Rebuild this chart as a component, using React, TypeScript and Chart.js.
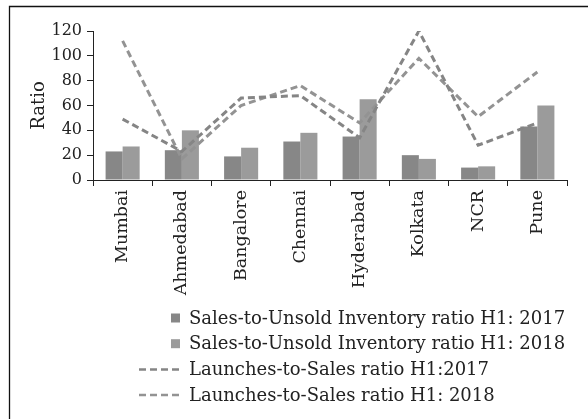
import React, { useEffect, useRef } from "react";
import { Chart, registerables } from "chart.js";

Chart.register(...registerables);

const categories = ["Mumbai", "Ahmedabad", "Bangalore", "Chennai", "Hyderabad", "Kolkata", "NCR", "Pune"];
const salesUnsold2017 = [23, 24, 19, 31, 35, 20, 10, 43];
const salesUnsold2018 = [27, 40, 26, 38, 65, 17, 11, 60];
const launchesSales2017 = [49, 23, 66, 68, 34, 120, 28, 46];
const launchesSales2018 = [112, 17, 60, 76, 46, 98, 51, 87];
const seriesLabels = [
  "Sales-to-Unsold Inventory ratio H1: 2017",
  "Sales-to-Unsold Inventory ratio H1: 2018",
  "Launches-to-Sales ratio H1:2017",
  "Launches-to-Sales ratio H1: 2018",
];
const yTitle = "Ratio";
const yMin = 0;
const yMax = 120;
const yStep = 20;

const FONT = '"DejaVu Serif", serif';
const INK = "#222";

const frameAndLegend = {
  id: "frameAndLegend",
  beforeDraw(chart: any) {
    const ctx = chart.ctx;
    ctx.save();
    ctx.fillStyle = "#fff";
    ctx.fillRect(0, 0, chart.width, chart.height);
    ctx.strokeStyle = "#111";
    ctx.lineWidth = 1.3;
    ctx.beginPath();
    ctx.moveTo(9.5, chart.height);
    ctx.lineTo(9.5, 6.5);
    ctx.lineTo(chart.width, 6.5);
    ctx.stroke();
    ctx.restore();
  },
  afterDraw(chart: any) {
    const ctx = chart.ctx;
    ctx.save();
    ctx.font = "18px " + FONT;
    ctx.textBaseline = "middle";
    ctx.textAlign = "left";
    chart.data.datasets.forEach((d: any, i: number) => {
      const y = 318 + i * 25.7;
      if (d.type === "line") {
        ctx.strokeStyle = d.borderColor;
        ctx.lineWidth = 2.5;
        ctx.setLineDash([7, 4]);
        ctx.beginPath();
        ctx.moveTo(139, y);
        ctx.lineTo(182, y);
        ctx.stroke();
        ctx.setLineDash([]);
      } else {
        ctx.fillStyle = d.backgroundColor;
        ctx.fillRect(171, y - 4.5, 9, 9);
      }
      ctx.fillStyle = INK;
      ctx.fillText(d.label, 189, y + 1);
    });
    ctx.restore();
  },
};

export default function App() {
  const ref = useRef<HTMLCanvasElement>(null);
  useEffect(() => {
    if (!ref.current) return;
    const chart = new Chart(ref.current, {
      type: "bar",
      data: {
        labels: categories,
        datasets: [
          {
            type: "bar",
            label: seriesLabels[0],
            data: salesUnsold2017,
            backgroundColor: "#878787",
            categoryPercentage: 0.575,
            barPercentage: 1,
            order: 2,
          },
          {
            type: "bar",
            label: seriesLabels[1],
            data: salesUnsold2018,
            backgroundColor: "#9b9b9b",
            categoryPercentage: 0.575,
            barPercentage: 1,
            order: 2,
          },
          {
            type: "line",
            label: seriesLabels[2],
            data: launchesSales2017,
            borderColor: "#858585",
            borderWidth: 3,
            borderDash: [7, 4],
            pointRadius: 0,
            fill: false,
            tension: 0,
            order: 1,
          },
          {
            type: "line",
            label: seriesLabels[3],
            data: launchesSales2018,
            borderColor: "#939393",
            borderWidth: 3,
            borderDash: [7, 4],
            pointRadius: 0,
            fill: false,
            tension: 0,
            order: 1,
          },
        ],
      } as any,
      options: {
        animation: false,
        responsive: false,
        devicePixelRatio: 1,
        layout: { padding: { left: 0, top: 31, right: 21, bottom: 119 } },
        plugins: { legend: { display: false }, tooltip: { enabled: false } },
        scales: {
          x: {
            offset: true,
            grid: { offset: true, drawOnChartArea: false, drawTicks: true, tickLength: 6, color: INK },
            border: { color: INK, width: 1 },
            ticks: {
              maxRotation: 90,
              minRotation: 90,
              padding: 4,
              color: INK,
              font: { family: FONT, size: 17.5 },
              autoSkip: false,
            },
            afterFit: (s: any) => {
              s.height = 120;
            },
          },
          y: {
            min: yMin,
            max: yMax,
            grid: { drawOnChartArea: false, drawTicks: true, tickLength: 6, color: INK },
            border: { color: INK, width: 1 },
            ticks: {
              stepSize: yStep,
              padding: 5,
              color: INK,
              font: { family: FONT, size: 16 },
            },
            title: {
              display: true,
              text: yTitle,
              color: INK,
              font: { family: FONT, size: 18 },
              padding: { top: 29, bottom: 0 },
            },
            afterFit: (s: any) => {
              s.width = 93;
            },
          },
        },
      } as any,
      plugins: [frameAndLegend],
    });
    return () => chart.destroy();
  }, []);
  return (
    <div style={{ position: "fixed", left: 0, top: 0, width: 588, height: 419, background: "#fff" }}>
      <canvas ref={ref} width={588} height={419} style={{ display: "block", width: 588, height: 419 }} />
    </div>
  );
}
